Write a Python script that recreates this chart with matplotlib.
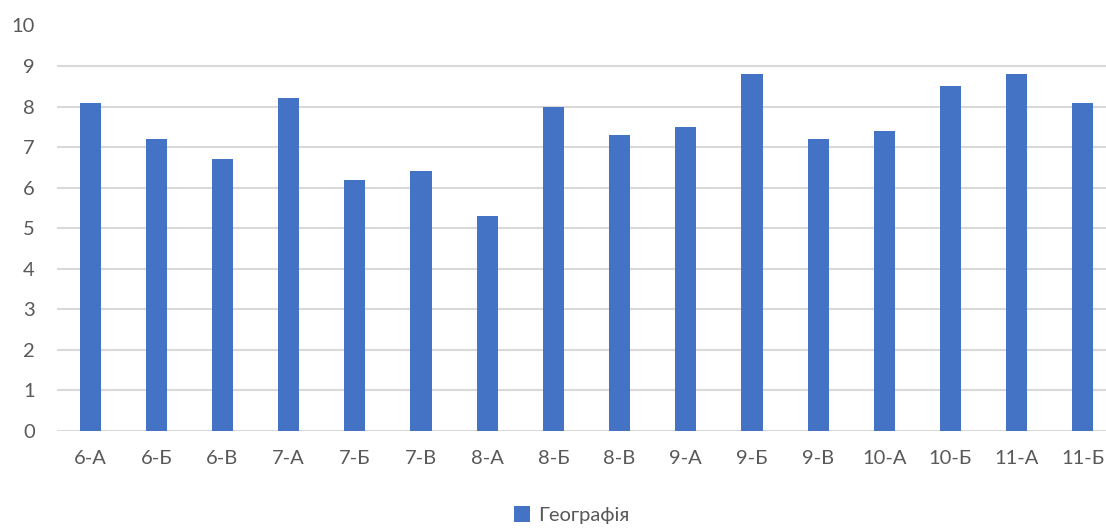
import matplotlib
matplotlib.use("Agg")
import matplotlib.pyplot as plt
import numpy as np

categories = ["6-А", "6-Б", "6-В", "7-А", "7-Б", "7-В", "8-А", "8-Б", "8-В",
              "9-А", "9-Б", "9-В", "10-А", "10-Б", "11-А", "11-Б"]
values = [8.1, 7.2, 6.7, 8.2, 6.2, 6.4, 5.3, 8.0, 7.3, 7.5, 8.8, 7.2, 7.4, 8.5, 8.8, 8.1]
series_name = "Географія"
yticks = list(range(0, 11))

plt.rcParams['font.family'] = ['Lato', 'DejaVu Sans']
W, H = 1106, 528
fig = plt.figure(figsize=(W / 100, H / 100), dpi=100)
left, right = 57, 1116
top, bottom = 25.5, 431
ax = fig.add_axes([left / W, 1 - bottom / H, (right - left) / W, (bottom - top) / H])

x = np.arange(len(categories))
ax.bar(x, values, width=0.32, color="#4472C4", label=series_name, zorder=3)
ax.set_xlim(-0.5, len(categories) - 0.5)
ax.set_ylim(0, 10)
ax.set_yticks(yticks)
ax.set_xticks(x)
ax.set_xticklabels(categories)
ax.grid(axis='y', color="#D9D9D9", linewidth=1.5, zorder=0)
ax.set_axisbelow(True)
for s in ax.spines.values():
    s.set_visible(False)
ax.tick_params(axis='both', length=0, labelsize=14.5, colors="#595959")
ax.tick_params(axis='y', pad=16)
ax.tick_params(axis='x', pad=14)
for lbl in ax.get_yticklabels():
    lbl.set_horizontalalignment('right')

leg = fig.legend(loc='center', bbox_to_anchor=(572 / W, 1 - 515 / H), frameon=False,
                 fontsize=14.5, handlelength=0.8, handleheight=0.8, handletextpad=0.4)
for t in leg.get_texts():
    t.set_color("#595959")

fig.savefig("out.png", dpi=100)
